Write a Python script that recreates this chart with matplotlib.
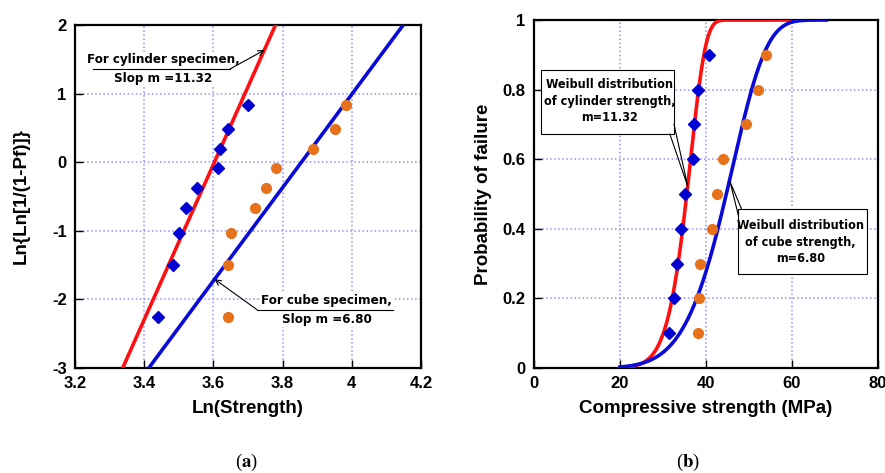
import matplotlib.pyplot as plt
import numpy as np
from matplotlib.patches import Rectangle

# probability levels and the values
pf = [0.1, 0.2, 0.3, 0.4, 0.5, 0.6, 0.7, 0.8, 0.9]
lnlnPf = [-2.25, -1.50, -1.03, -0.67, -0.37, -0.09, 0.19, 0.48, 0.83]
cylLn = [3.441, 3.482, 3.501, 3.521, 3.552, 3.612, 3.620, 3.641, 3.701]
cubeLn = [3.641, 3.641, 3.651, 3.721, 3.752, 3.781, 3.889, 3.952, 3.983]
cylMPa = [31.4, 32.6, 33.3, 34.3, 35.0, 37.0, 37.3, 38.2, 40.6]
cubeMPa = [38.1, 38.4, 38.6, 41.5, 42.6, 44.0, 49.3, 52.2, 54.0]

# Weibull fits (modulus m, scale s0 in MPa)
mCyl, s0Cyl = 11.32, 36.7
mCube, s0Cube = 6.80, 47.2

rojo = '#ff1010'
azul = '#0a0ad8'
naranja = '#e8711c'
grilla = '#8f8fff'

plt.rcParams['font.family'] = ['Liberation Sans', 'DejaVu Sans']
plt.rcParams['font.weight'] = 'bold'
plt.rcParams['axes.unicode_minus'] = False
plt.rcParams['mathtext.fontset'] = 'stix'
notaFont = dict(family='DejaVu Sans', fontstretch='condensed', fontweight='bold')

fig = plt.figure(figsize=(8.85, 4.73), dpi=100)


def estilo(ax):
    ax.grid(True, linestyle=':', color=grilla, linewidth=1.1, zorder=0)
    ax.set_axisbelow(True)
    for s in ax.spines.values():
        s.set_linewidth(1.6)
    ax.tick_params(direction='in', length=6, width=1, labelsize=12, pad=6)
    for lb in ax.get_xticklabels() + ax.get_yticklabels():
        lb.set_fontweight('bold')


#****************************************************************
# (a) Ln-Ln plot
ax1 = fig.add_axes([75 / 885, 105 / 473, 346 / 885, 343 / 473])
xx = np.linspace(3.2, 4.2, 200)
ax1.plot(xx, mCyl * (xx - np.log(s0Cyl)), color=rojo, lw=2.6, zorder=3)
ax1.plot(xx, mCube * (xx - np.log(s0Cube)), color=azul, lw=2.6, zorder=3)
ax1.plot(cylLn, lnlnPf, 'D', color='#0000d0', ms=6.5, zorder=4, clip_on=False)
ax1.plot(cubeLn, lnlnPf, 'o', color=naranja, ms=7, zorder=4, clip_on=False)
ax1.set_xlim(3.2, 4.2)
ax1.set_ylim(-3, 2)
ax1.set_xticks([3.2, 3.4, 3.6, 3.8, 4.0, 4.2])
ax1.set_xticklabels(['3.2', '3.4', '3.6', '3.8', '4', '4.2'])
ax1.set_yticks([-3, -2, -1, 0, 1, 2])
estilo(ax1)
ax1.set_xlabel('Ln(Strength)', fontsize=13.5, fontweight='bold', labelpad=6)
ax1.set_ylabel('Ln{Ln[1/(1-Pf)]}', fontsize=13.5, fontweight='bold', labelpad=16)

caja = dict(facecolor='white', edgecolor='none', pad=1)
ax1.text(3.456, 1.49, 'For cylinder specimen,', ha='center', va='center',
         fontsize=9.5, bbox=caja, zorder=5, **notaFont)
ax1.text(3.456, 1.22, 'Slop m =11.32', ha='center', va='center',
         fontsize=9.5, bbox=caja, zorder=5, **notaFont)
ax1.plot([3.251, 3.648], [1.359, 1.359], color='black', lw=0.8, zorder=6)
ax1.annotate('', xy=(3.748, 1.636), xytext=(3.648, 1.359),
             arrowprops=dict(arrowstyle='->', color='black', lw=0.8,
                             shrinkA=0, shrinkB=0), zorder=6)

ax1.text(3.928, -2.02, 'For cube specimen,', ha='center', va='center',
         fontsize=9.5, bbox=caja, zorder=5, **notaFont)
ax1.text(3.928, -2.29, 'Slop m =6.80', ha='center', va='center',
         fontsize=9.5, bbox=caja, zorder=5, **notaFont)
ax1.plot([3.726, 4.119], [-2.15, -2.15], color='black', lw=0.8, zorder=6)
ax1.annotate('', xy=(3.603, -1.704), xytext=(3.726, -2.15),
             arrowprops=dict(arrowstyle='->', color='black', lw=0.8,
                             shrinkA=0, shrinkB=0), zorder=6)

#****************************************************************
# (b) Weibull CDF
ax2 = fig.add_axes([534 / 885, 105 / 473, 344 / 885, 348 / 473])
sC = np.linspace(20, 60, 300)
sB = np.linspace(20, 68, 300)
ax2.plot(sC, 1 - np.exp(-(sC / s0Cyl) ** mCyl), color=rojo, lw=2.6, zorder=3)
ax2.plot(sB, 1 - np.exp(-(sB / s0Cube) ** mCube), color=azul, lw=2.6, zorder=3)
ax2.plot(cylMPa, pf, 'D', color='#0000d0', ms=6.5, zorder=4)
ax2.plot(cubeMPa, pf, 'o', color=naranja, ms=7, zorder=4)
ax2.set_xlim(0, 80)
ax2.set_ylim(0, 1)
ax2.set_xticks([0, 20, 40, 60, 80])
ax2.set_yticks([0, 0.2, 0.4, 0.6, 0.8, 1])
ax2.set_yticklabels(['0', '0.2', '0.4', '0.6', '0.8', '1'])
estilo(ax2)
ax2.set_xlabel('Compressive strength (MPa)', fontsize=13.5, fontweight='bold', labelpad=6)
ax2.set_ylabel('Probability of failure', fontsize=13.5, fontweight='bold', labelpad=8)

# callout boxes
ax2.add_patch(Rectangle((1.56, 0.672), 31.0, 0.184, facecolor='white',
                        edgecolor='black', lw=0.8, zorder=5))
ax2.text(17.6, 0.766, 'Weibull distribution\nof cylinder strength,\nm=11.32',
         ha='center', va='center', fontsize=9, linespacing=1.35, zorder=6,
         **notaFont)
ax2.plot([31.6, 35.8, 32.56], [0.672, 0.52, 0.70], color='black', lw=0.8, zorder=6)

ax2.add_patch(Rectangle((47.5, 0.270), 29.9, 0.186, facecolor='white',
                        edgecolor='black', lw=0.8, zorder=5))
ax2.text(62.0, 0.362, 'Weibull distribution\nof cube strength,\nm=6.80',
         ha='center', va='center', fontsize=9, linespacing=1.35, zorder=6,
         **notaFont)
ax2.plot([47.5, 45.6, 48.3], [0.44, 0.535, 0.456], color='black', lw=0.8, zorder=6)

# sub-figure labels
fig.text(246 / 885, 1 - 462 / 473, r'($\mathbf{a}$)', ha='center', va='center',
         fontsize=13.5, family='Liberation Serif', fontweight='normal')
fig.text(688 / 885, 1 - 462 / 473, r'($\mathbf{b}$)', ha='center', va='center',
         fontsize=13.5, family='Liberation Serif', fontweight='normal')

fig.savefig('out.png', dpi=100)
